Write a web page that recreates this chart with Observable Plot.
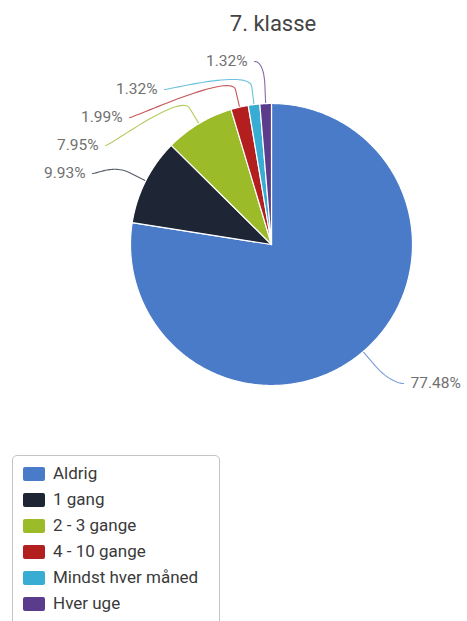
<!DOCTYPE html>
<html><head><meta charset="utf-8">
<script src="https://cdn.jsdelivr.net/npm/d3@7"></script>
<script src="https://cdn.jsdelivr.net/npm/@observablehq/plot@0.6"></script>
<style>
html,body{margin:0;padding:0;background:#fff;}
#wrap{position:relative;width:467px;height:621px;overflow:hidden;font-family:Roboto,"Noto Sans",sans-serif;}
#title{position:absolute;top:11px;left:273px;transform:translateX(-50%);font-size:22px;line-height:26px;color:#444;white-space:nowrap;}
#chart{position:absolute;top:0;left:0;}
#legend{position:absolute;left:12px;top:455px;width:208px;height:200px;border:1px solid #c4c4c4;border-radius:5px;box-sizing:border-box;}
.sw{position:absolute;left:10px;width:22px;height:14px;border-radius:2px;}
.lt{position:absolute;left:40px;font-size:17px;line-height:17px;color:#3a3a3a;white-space:nowrap;}
</style>
</head><body>
<div id="wrap">
  <div id="chart"></div>
  <div id="title">7. klasse</div>
  <div id="legend"></div>
</div>
<script>
const categories = ["Aldrig", "1 gang", "2 - 3 gange", "4 - 10 gange", "Mindst hver måned", "Hver uge"];
const values = [77.48, 9.93, 7.95, 1.99, 1.32, 1.32];
const labels = ["77.48%", "9.93%", "7.95%", "1.99%", "1.32%", "1.32%"];
const colors = ["#4a7bc8", "#1e2636", "#9bbb29", "#b31e1f", "#38acd3", "#5b3b8b"];

// layout (pixels relative to pie centre)
const W = 467, H = 440, cx = 271, cy = 244, R = 141, breakD = 18, gap = 7;
const labelAt = [[139, 139, "start"], [-186, -71, "end"], [-173, -99, "end"], [-149, -127, "end"], [-114, -155, "end"], [-24, -183, "end"]];

const arcs = d3.pie().sort(null).value(d => d)(values);

const slicePts = [];
arcs.forEach((a, i) => {
  const cat = categories[i];
  const n = Math.max(2, Math.ceil((a.endAngle - a.startAngle) / 0.01));
  slicePts.push({cat, x: 0, y: 0});
  for (let k = 0; k <= n; k++) {
    const t = a.startAngle + (a.endAngle - a.startAngle) * k / n;
    slicePts.push({cat, x: R * Math.sin(t), y: -R * Math.cos(t)});
  }
  slicePts.push({cat, x: 0, y: 0});
});

const connPts = [];
const labelRows = [];
arcs.forEach((a, i) => {
  const cat = categories[i];
  const m = (a.startAngle + a.endAngle) / 2;
  const T = [R * Math.sin(m), -R * Math.cos(m)];
  const B = [(R + breakD) * Math.sin(m), -(R + breakD) * Math.cos(m)];
  const [lx, ly, anchor] = labelAt[i];
  labelRows.push({cat, x: lx, y: ly, anchor, label: labels[i]});
  const L = [anchor === "end" ? lx + gap : lx - gap, ly];
  const C1 = [L[0] + (anchor === "end" ? 5 : -5), L[1]];
  const C2 = [2 * B[0] - T[0], 2 * B[1] - T[1]];
  const N = 30;
  for (let k = 0; k <= N; k++) {
    const t = k / N, u = 1 - t;
    const x = u*u*u*L[0] + 3*u*u*t*C1[0] + 3*u*t*t*C2[0] + t*t*t*B[0];
    const y = u*u*u*L[1] + 3*u*u*t*C1[1] + 3*u*t*t*C2[1] + t*t*t*B[1];
    connPts.push({cat, x, y});
  }
  connPts.push({cat, x: T[0], y: T[1]});
});

const textOpts = {x: "x", y: "y", text: "label", fill: "#707070", fontSize: 15.5, fontFamily: "Roboto, 'Noto Sans', sans-serif"};

const chart = Plot.plot({
  width: W, height: H, margin: 0,
  x: {domain: [-cx, W - cx], range: [0, W], axis: null},
  y: {domain: [-cy, H - cy], range: [0, H], axis: null},
  color: {domain: categories, range: colors},
  marks: [
    Plot.line(connPts, {x: "x", y: "y", z: "cat", stroke: "cat", strokeWidth: 1.1, strokeOpacity: 0.75, curve: "linear"}),
    Plot.line(slicePts, {x: "x", y: "y", z: "cat", fill: "cat", stroke: "white", strokeWidth: 1.2, strokeLinejoin: "round", curve: "linear"}),
    Plot.text(labelRows.filter(d => d.anchor === "start"), {...textOpts, textAnchor: "start"}),
    Plot.text(labelRows.filter(d => d.anchor === "end"), {...textOpts, textAnchor: "end"})
  ]
});
document.getElementById("chart").appendChild(chart);

const legend = document.getElementById("legend");
categories.forEach((c, i) => {
  const sw = document.createElement("div");
  sw.className = "sw";
  sw.style.top = (11 + i * 26) + "px";
  sw.style.background = colors[i];
  legend.appendChild(sw);
  const t = document.createElement("div");
  t.className = "lt";
  t.style.top = (9 + i * 26) + "px";
  t.textContent = c;
  legend.appendChild(t);
});
</script>
</body></html>
